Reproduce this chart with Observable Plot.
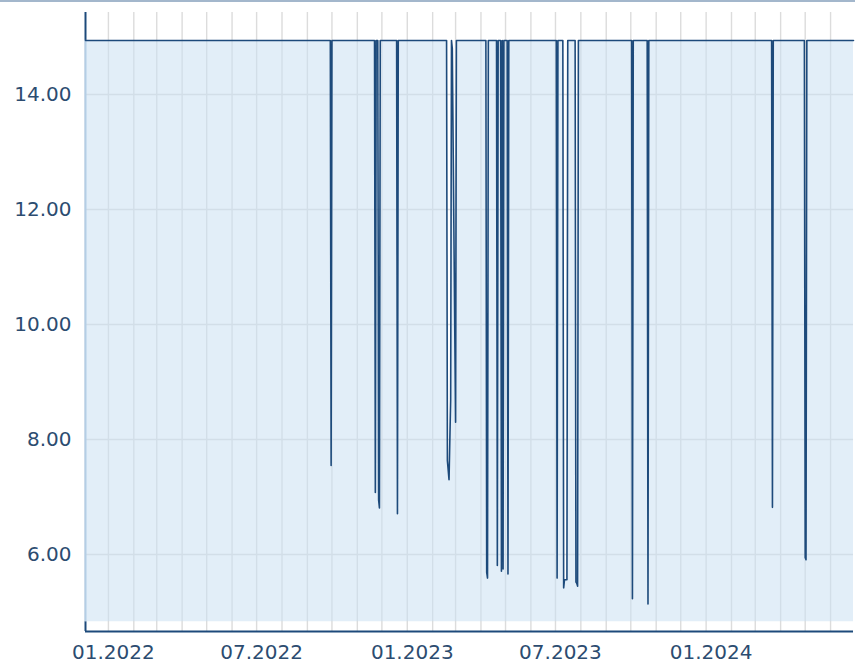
<!DOCTYPE html>
<html>
<head>
<meta charset="utf-8">
<script src="https://cdn.jsdelivr.net/npm/d3@7"></script>
<script src="https://cdn.jsdelivr.net/npm/@observablehq/plot@0.6"></script>
<style>
  html, body { margin: 0; padding: 0; background: #fff; overflow: hidden; }
  #wrap { position: relative; width: 855px; height: 664px; }
  #topline { position: absolute; left: 0; top: 0; width: 855px; height: 2px; background: #a3b7cc; }
</style>
</head>
<body>
<div id="wrap"><div id="chart"></div><div id="topline"></div></div>
<script>
// ---- data ----
const dates = [
  "2021-12-04","2022-09-29","2022-09-30","2022-10-01",
  "2022-11-22","2022-11-23","2022-11-24","2022-11-26","2022-11-27","2022-11-28","2022-11-29",
  "2022-12-19","2022-12-20","2022-12-21",
  "2023-02-18","2023-02-19","2023-02-21","2023-02-23","2023-02-24","2023-02-25","2023-03-01","2023-03-02",
  "2023-04-07","2023-04-08","2023-04-09","2023-04-10",
  "2023-04-20","2023-04-21","2023-04-22",
  "2023-04-25","2023-04-26","2023-04-27","2023-04-28","2023-04-29",
  "2023-05-03","2023-05-04","2023-05-05",
  "2023-07-02","2023-07-03","2023-07-04",
  "2023-07-10","2023-07-11","2023-07-12","2023-07-15","2023-07-16",
  "2023-07-25","2023-07-26","2023-07-27","2023-07-28","2023-07-29",
  "2023-10-02","2023-10-03","2023-10-04",
  "2023-10-21","2023-10-22","2023-10-23",
  "2024-03-21","2024-03-22","2024-03-23",
  "2024-04-30","2024-05-01","2024-05-02","2024-05-03",
  "2024-06-29"
];
const values = [
  14.94,14.94,7.55,14.94,
  14.94,7.08,14.94,14.94,6.95,6.81,14.94,
  14.94,6.71,14.94,
  14.94,7.63,7.30,8.70,14.94,14.80,8.30,14.94,
  14.94,5.69,5.59,14.94,
  14.94,5.81,14.94,
  14.94,5.71,14.94,5.75,14.94,
  14.94,5.66,14.94,
  14.94,5.59,14.94,
  14.94,5.42,5.56,5.56,14.94,
  14.94,5.52,5.50,5.45,14.94,
  14.94,5.23,14.94,
  14.94,5.14,14.94,
  14.94,6.82,14.94,
  14.94,5.95,5.91,14.94,
  14.94
];
const yTicks = [6, 8, 10, 12, 14];
const xLabelDates = ["2022-01-01","2022-07-01","2023-01-01","2023-07-01","2024-01-01"];
const xDomain = ["2021-12-04","2024-06-29"];
const yDomain = [4.661, 15.426];
const areaBase = 4.83;
const baseLevel = 14.94;

// ---- build ----
const data = dates.map((d, i) => ({date: new Date(d), value: values[i]}));
const x0 = new Date(xDomain[0]), x1 = new Date(xDomain[1]);
const monthGrid = d3.utcMonth.range(x0, x1);
const navy = "#1d4a7b";
const labelColor = "#2c4c70";
const fmtY = d3.format(".2f");
const fmtX = d3.utcFormat("%m.%Y");

const chart = Plot.plot({
  width: 855,
  height: 664,
  marginLeft: 85,
  marginRight: 2,
  marginTop: 12,
  marginBottom: 33,
  style: {fontFamily: "DejaVu Sans, Verdana, sans-serif", background: "#fff"},
  x: {type: "utc", domain: [x0, x1], axis: null},
  y: {domain: yDomain, axis: null},
  marks: [
    Plot.ruleX(monthGrid, {x: d => d, stroke: "#dcdcdc", strokeWidth: 1.4}),
    Plot.ruleY(yTicks, {y: d => d, stroke: "#dcdcdc", strokeWidth: 1.4}),
    Plot.ruleX([x0], {y1: yDomain[1], y2: baseLevel, stroke: navy, strokeWidth: 2}),
    Plot.ruleX([x0], {y1: baseLevel, y2: areaBase, stroke: "#9ab8d6", strokeWidth: 2}),
    Plot.ruleX([x0], {y1: areaBase, y2: yDomain[0], stroke: navy, strokeWidth: 2}),
    Plot.areaY(data, {x: "date", y1: areaBase, y2: "value", fill: "#cbe0f3", fillOpacity: 0.55}),
    Plot.line(data, {x: "date", y: "value", stroke: navy, strokeWidth: 1.6}),
    Plot.ruleY([yDomain[0]], {stroke: navy, strokeWidth: 2}),
    Plot.text(yTicks, {x: x0, y: d => d, text: d => fmtY(d), textAnchor: "end", dx: -14, fontSize: 20, fill: labelColor}),
    Plot.text(xLabelDates.map(d => new Date(d)), {x: d => d, y: yDomain[0], text: d => fmtX(d), dx: 5, dy: 21, fontSize: 20, fill: labelColor})
  ]
});
document.getElementById("chart").appendChild(chart);
</script>
</body>
</html>
